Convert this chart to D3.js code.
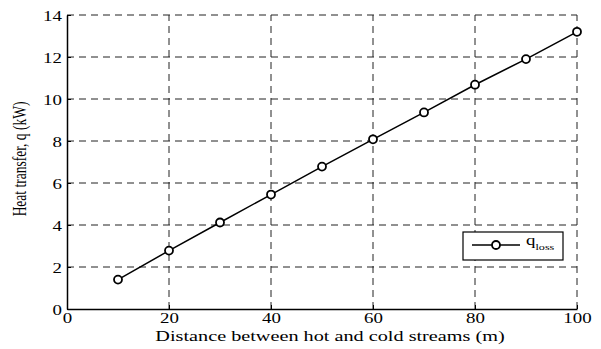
<!DOCTYPE html>
<html>
<head>
<meta charset="utf-8">
<script src="https://cdn.jsdelivr.net/npm/d3@7"></script>
<style>
body { margin: 0; background: #fff; }
text { font-family: "Liberation Serif", "Times New Roman", "DejaVu Serif", serif; fill: #000; }
</style>
</head>
<body>
<div id="chart_container"></div>
<script>
var distance = [10, 20, 30, 40, 50, 60, 70, 80, 90, 100];
var qLoss = [1.4, 2.78, 4.12, 5.45, 6.78, 8.08, 9.36, 10.68, 11.9, 13.2];
var xTicks = [0, 20, 40, 60, 80, 100];
var yTicks = [0, 2, 4, 6, 8, 10, 12, 14];

var stretch = 1.35; // the original picture is wider than tall, text looks stretched

var svg = d3.select("#chart_container").append("svg")
    .attr("width", 601)
    .attr("height", 349);

var x = d3.scaleLinear().domain([0, 100]).range([67, 577]);
var y = d3.scaleLinear().domain([0, 14]).range([309, 15]);

// grid
var grid = svg.append("g").attr("id", "grid");
grid.selectAll("line.v")
    .data(xTicks.slice(1))
    .enter().append("line")
    .attr("class", "v")
    .attr("x1", d => x(d)).attr("x2", d => x(d))
    .attr("y1", y(0)).attr("y2", y(14))
    .attr("stroke", "#222").attr("stroke-width", 1)
    .attr("stroke-dasharray", "7,5");
grid.selectAll("line.h")
    .data(yTicks.slice(1))
    .enter().append("line")
    .attr("class", "h")
    .attr("y1", d => y(d)).attr("y2", d => y(d))
    .attr("x1", x(0)).attr("x2", x(100))
    .attr("stroke", "#222").attr("stroke-width", 1)
    .attr("stroke-dasharray", "7,5");

// axes
var xAxis = svg.append("g")
    .attr("transform", "translate(0," + y(0) + ")")
    .call(d3.axisBottom(x).tickValues(xTicks).tickSizeInner(-4).tickSizeOuter(0));
var yAxis = svg.append("g")
    .attr("transform", "translate(" + x(0) + ",0)")
    .call(d3.axisLeft(y).tickValues(yTicks).tickSizeInner(-4).tickSizeOuter(0));

[xAxis, yAxis].forEach(function(a) {
    a.attr("font-family", null).attr("font-size", null);
    a.select(".domain").attr("stroke", "#000").attr("stroke-width", 1.5);
    a.selectAll(".tick line").attr("stroke", "#000");
    a.selectAll("text").style("font-size", "14px");
});
xAxis.selectAll("text")
    .attr("x", null).attr("y", null).attr("dy", null)
    .attr("transform", "translate(0,14) scale(" + stretch + ",1)");
yAxis.selectAll("text")
    .attr("x", null).attr("dy", null)
    .attr("transform", "translate(-5,5) scale(" + stretch + ",1)");

// line and markers
var line = d3.line()
    .x(function(d, i) { return x(distance[i]); })
    .y(function(d) { return y(d); });

svg.append("path")
    .datum(qLoss)
    .attr("d", line)
    .attr("fill", "none")
    .attr("stroke", "#000")
    .attr("stroke-width", 1.5);

svg.selectAll("circle.pt")
    .data(qLoss)
    .enter().append("circle")
    .attr("class", "pt")
    .attr("cx", function(d, i) { return x(distance[i]); })
    .attr("cy", function(d) { return y(d); })
    .attr("r", 4)
    .attr("fill", "#fff")
    .attr("stroke", "#000")
    .attr("stroke-width", 1.8);

// labels
svg.append("text")
    .attr("transform", "translate(330,341) scale(" + stretch + ",1)")
    .attr("text-anchor", "middle")
    .style("font-size", "15px")
    .text("Distance between hot and cold streams (m)");

svg.append("text")
    .attr("transform", "translate(26,159) rotate(-90) scale(1," + stretch + ")")
    .attr("text-anchor", "middle")
    .style("font-size", "13.5px")
    .text("Heat transfer, q (kW)");

// legend
var legend = svg.append("g").attr("id", "legend");
legend.append("rect")
    .attr("x", 463).attr("y", 232)
    .attr("width", 100).attr("height", 28)
    .attr("fill", "#fff")
    .attr("stroke", "#000")
    .attr("stroke-width", 1.2);
legend.append("line")
    .attr("x1", 472).attr("x2", 520)
    .attr("y1", 245).attr("y2", 245)
    .attr("stroke", "#000").attr("stroke-width", 1.5);
legend.append("circle")
    .attr("cx", 496).attr("cy", 245).attr("r", 4)
    .attr("fill", "#fff").attr("stroke", "#000").attr("stroke-width", 1.8);
var lt = legend.append("text")
    .attr("transform", "translate(526,245) scale(" + stretch + ",1)")
    .style("font-size", "14px");
lt.append("tspan").text("q");
lt.append("tspan").attr("dy", 5).style("font-size", "9px").text("loss");
</script>
</body>
</html>
